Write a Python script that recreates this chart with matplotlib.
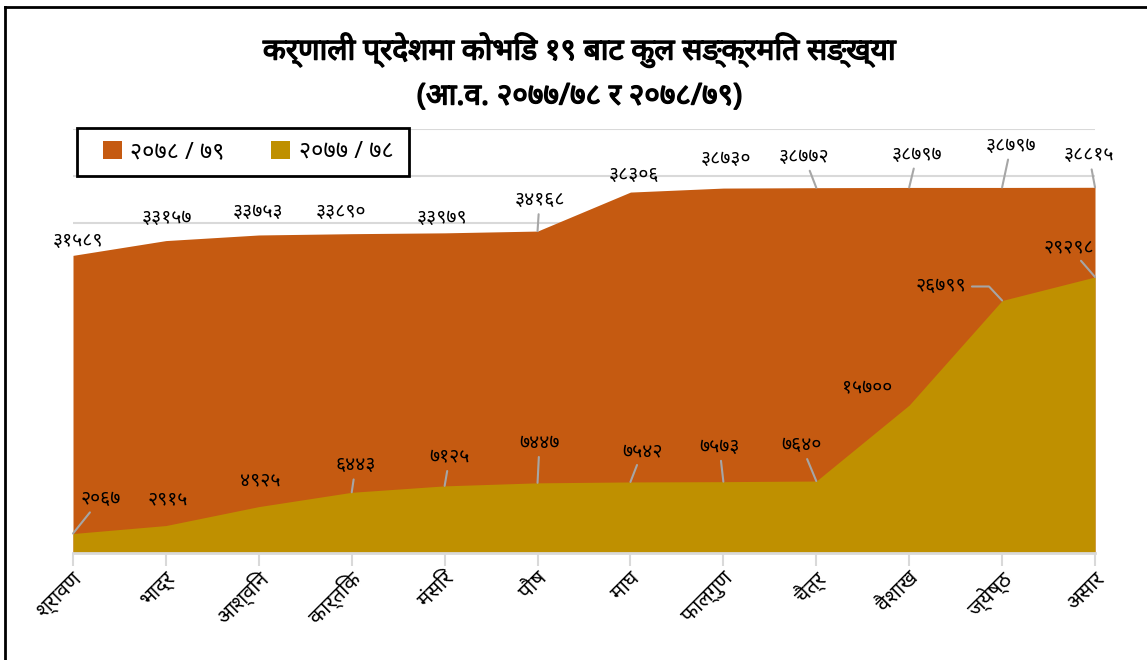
import matplotlib
matplotlib.use("Agg")
import matplotlib.pyplot as plt
import matplotlib.transforms as mtransforms
import matplotlib.patheffects as pe
from matplotlib.patches import Patch, Rectangle
from matplotlib.lines import Line2D

plt.rcParams['font.family'] = ['Noto Sans', 'Noto Sans Devanagari', 'DejaVu Sans']

# data
months = ["श्रावण", "भाद्र", "आश्विन", "कार्तिक", "मंसिर", "पौष",
          "माघ", "फाल्गुण", "चैत्र", "वैशाख", "ज्येष्ठ", "असार"]
cases_7879 = [31589, 33157, 33753, 33890, 33979, 34168,
              38306, 38730, 38772, 38797, 38797, 38815]
cases_7778 = [2067, 2915, 4925, 6443, 7125, 7447,
              7542, 7573, 7640, 15700, 26799, 29298]
series_names = ["२०७८ / ७९", "२०७७ / ७८"]

title1 = "कर्णाली प्रदेशमा कोभिड १९ बाट कुल सङ्क्रमित सङ्ख्या"
title2 = "(आ.व. २०७७/७८ र २०७८/७९)"

# label placement (pixel offsets from the point) and leader type (0 none, 1 straight, 2 elbow)
off_7879 = [(5, 14), (1, 23), (-1, 23), (-11, 22), (-3, 15), (2, 31),
            (4, 17), (3, 29), (-12, 31), (8, 33), (9, 42), (-6, 32)]
lead_7879 = [0, 0, 0, 0, 0, 1, 0, 0, 1, 1, 1, 1]
off_7778 = [(28, 35), (2, 26), (1, 26), (4, 27), (5, 29), (2, 40),
            (12, 31), (-4, 35), (-15, 36), (-42, 17), (-61, 14), (-26, 30)]
lead_7778 = [1, 0, 0, 1, 1, 1, 1, 1, 1, 0, 2, 1]

ORANGE = "#C55A11"
GOLD = "#BF9000"
LEAD = "#A6A6A6"
GRID = "#D9D9D9"

deva_digits = str.maketrans("0123456789", "०१२३४५६७८९")


def deva(n):
    return str(n).translate(deva_digits)


W, H = 1147, 660
fig = plt.figure(figsize=(W / 100, H / 100), dpi=100)
ax = fig.add_axes([73 / W, 1 - 553 / H, (1095 - 73) / W, (553 - 129) / H])

x = list(range(len(months)))
ax.fill_between(x, 0, cases_7879, color=ORANGE, lw=0, zorder=2)
ax.fill_between(x, 0, cases_7778, color=GOLD, lw=0, zorder=3)

ax.set_xlim(0, len(months) - 1)
ax.set_ylim(0, 45000)
ax.set_yticks([35000, 40000, 45000])
ax.yaxis.grid(True, color=GRID, lw=1.5, zorder=0)
ax.set_axisbelow(True)
ax.tick_params(axis="y", left=False, labelleft=False)
for s in ["left", "right", "top"]:
    ax.spines[s].set_visible(False)
ax.spines["bottom"].set_color(GRID)
ax.spines["bottom"].set_linewidth(2)
ax.spines["bottom"].set_zorder(5)

ax.set_xticks(x)
ax.set_xticklabels(months, rotation=45, ha="right", va="center",
                   rotation_mode="anchor", fontsize=15)
ax.tick_params(axis="x", length=9, width=1.5, color=GRID, pad=7)
shift = mtransforms.ScaledTranslation(6 / 100, 0, fig.dpi_scale_trans)
for lab in ax.get_xticklabels():
    lab.set_transform(lab.get_transform() + shift)


def put_labels(vals, offs, leads):
    for i, v in enumerate(vals):
        dx, dy = offs[i]
        kw = {}
        if leads[i] == 1:
            kw["arrowprops"] = dict(arrowstyle="-", color=LEAD, lw=1.5,
                                    shrinkA=1, shrinkB=0)
        elif leads[i] == 2:
            kw["arrowprops"] = dict(arrowstyle="-", color=LEAD, lw=1.5,
                                    shrinkA=2, shrinkB=0, relpos=(1, 0.5),
                                    connectionstyle="angle,angleA=0,angleB=133,rad=0")
        ax.annotate(deva(v), xy=(i, v), xytext=(dx, dy), textcoords="offset pixels",
                    ha="center", va="center", fontsize=14, color="black",
                    zorder=6, annotation_clip=False, **kw)


put_labels(cases_7879, off_7879, lead_7879)
put_labels(cases_7778, off_7778, lead_7778)

# the title is heavier in the reference; thicken it with a thin outline
heavy = [pe.withStroke(linewidth=1.0, foreground="black")]
fig.text(580 / W, 1 - 50 / H, title1, ha="center", va="center",
         fontsize=21.5, path_effects=heavy)
fig.text(580 / W, 1 - 97 / H, title2, ha="center", va="center",
         fontsize=21.5, path_effects=heavy)

# legend box
fig.add_artist(Rectangle((77 / W, 1 - 176 / H), 332 / W, 48 / H,
                         transform=fig.transFigure, facecolor="white",
                         edgecolor="black", lw=2, zorder=4))
handles = [Patch(facecolor=ORANGE), Patch(facecolor=GOLD)]
leg = fig.legend(handles, series_names, loc="center",
                 bbox_to_anchor=(82 / W, 1 - 176 / H, 332 / W, 48 / H),
                 ncol=2, fontsize=17, frameon=False,
                 handlelength=0.8, handleheight=0.8, columnspacing=2.0,
                 handletextpad=0.35, borderaxespad=0)
leg.set_zorder(5)

# outer frame of the picture
fig.add_artist(Line2D([4.5 / W, 1.0], [1 - 7 / H, 1 - 7 / H],
                      transform=fig.transFigure, color="black", lw=2))
fig.add_artist(Line2D([4.5 / W, 4.5 / W], [0, 1 - 7 / H],
                      transform=fig.transFigure, color="black", lw=2))

fig.savefig("out.png", dpi=100)
